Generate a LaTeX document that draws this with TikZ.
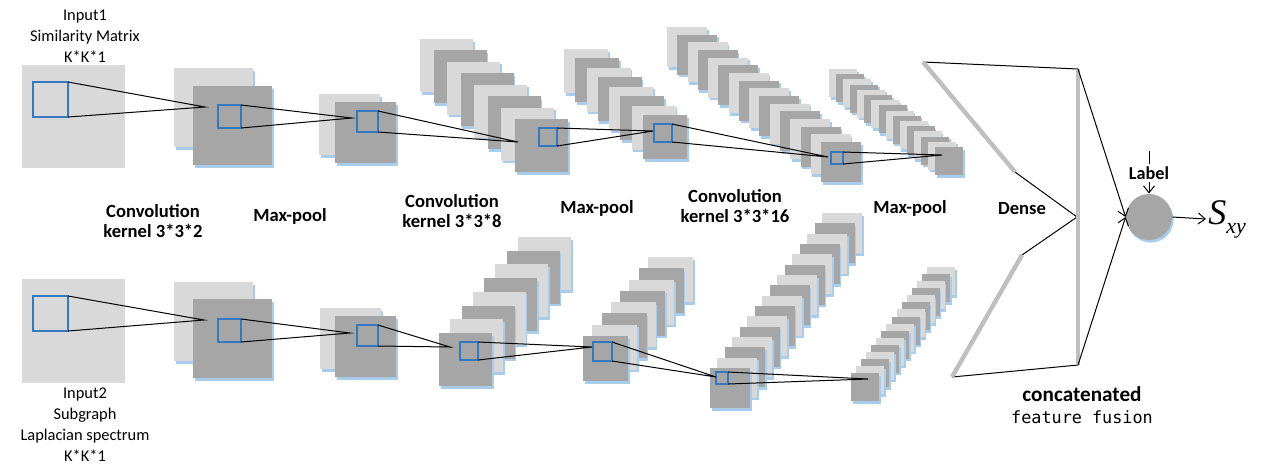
\documentclass[tikz,border=0pt]{standalone}
\usepackage{fontspec}
\setmainfont{Carlito}
\newfontfamily\codefont{DejaVu Sans Mono}
\newfontfamily\timesfont{Liberation Serif}
\usetikzlibrary{positioning, calc, arrows.meta, shadows}
\definecolor{MapLight}{HTML}{D9D9D9}
\definecolor{MapDark}{HTML}{A6A6A6}
\definecolor{BarGray}{HTML}{BFBFBF}
\definecolor{Kernel}{HTML}{3478C0}
\definecolor{Glow}{HTML}{A9CCEB}
\tikzset{
    inmap/.style={fill=MapLight},
    map/.style={drop shadow={shadow xshift=0.8pt, shadow yshift=-1.3pt, fill=Glow, opacity=1}},
    kernel/.style={rectangle, draw=Kernel, line width=0.9pt, minimum size=#1, inner sep=0pt, outer sep=0pt},
    proj/.style={line width=0.5pt, color=black},
    densebar/.style={line width=2.2pt, color=BarGray},
    smalltext/.style={font=\fontsize{8.2}{10.5}\selectfont, align=center},
    steptext/.style={font=\fontsize{9.3}{9.8}\selectfont\bfseries, align=center},
}
% pila di mappe: x0, y0, dx, dy, n, lato
\newcommand{\featmaps}[6]{%
    \foreach \i in {1,...,#5}{%
        \ifodd\i \def\mapcol{MapLight}\else \def\mapcol{MapDark}\fi
        \fill[map, fill=\mapcol] ({#1+(\i-1)*(#3)},{#2+(\i-1)*(#4)}) rectangle ++(#6,#6);
    }}

\begin{document}
\begin{tikzpicture}[x=0.5pt, y=-0.5pt, >={Straight Barb[length=3.5pt, width=5.5pt]}]
    \useasboundingbox (0,0) rectangle (1263,468);

    % Ingressi
    \fill[inmap] (22,65) rectangle ++(103,103);
    \fill[inmap] (22,279) rectangle ++(103,104);
    \node[smalltext] (in1) at (85,36) {Input1\\Similarity Matrix\\K*K*1};
    \node[smalltext] (in2) at (85,425) {Input2\\Subgraph\\Laplacian spectrum\\K*K*1};

    % Ramo superiore
    \featmaps{174}{68}{19}{18}{2}{79}
    \featmaps{319}{94}{16}{8}{2}{61}
    \featmaps{420}{39}{13.57}{11.43}{8}{53}
    \featmaps{564}{49}{11.29}{9.43}{8}{44}
    \featmaps{667}{27}{10.27}{7.67}{16}{40}
    \featmaps{829}{69}{7.07}{5.2}{16}{28}

    % Ramo inferiore
    \featmaps{174}{282}{19}{17}{2}{79}
    \featmaps{320}{308}{15}{8}{2}{61}
    \featmaps{518}{237}{-11.29}{13.71}{8}{53}
    \featmaps{648}{257}{-9.29}{11.29}{8}{45}
    \featmaps{822}{213}{-7.47}{10.33}{16}{40}
    \featmaps{927}{267}{-5.07}{7.07}{16}{28}

    % Finestre dei kernel
    \node[kernel=17.5pt] (w1t) at (50.5,99.5) {};
    \node[kernel=11.5pt] (w2t) at (229.5,116.5) {};
    \node[kernel=10.5pt] (w3t) at (367.5,121.5) {};
    \node[kernel=9pt]    (w4t) at (548,137) {};
    \node[kernel=9pt]    (w5t) at (663,133) {};
    \node[kernel=6pt]    (w6t) at (837,158) {};
    \node[kernel=17.5pt] (w1b) at (50.5,313.5) {};
    \node[kernel=11.5pt] (w2b) at (229.5,330.5) {};
    \node[kernel=10.5pt] (w3b) at (367.5,335.5) {};
    \node[kernel=9pt]    (w4b) at (469,351) {};
    \node[kernel=9.5pt]  (w5b) at (602.5,351.5) {};
    \node[kernel=6pt]    (w6b) at (722,378) {};

    % Punti di convergenza
    \coordinate (t2) at (205,107);
    \coordinate (t3) at (352,118);
    \coordinate (t4) at (518,142);
    \coordinate (t5) at (653,131);
    \coordinate (t6) at (828,157);
    \coordinate (t7) at (942,155);
    \coordinate (b2) at (204,320);
    \coordinate (b3) at (350,333);
    \coordinate (b4) at (450,347);
    \coordinate (b5) at (592,347);
    \coordinate (b6) at (716,377);
    \coordinate (b7) at (868,379);

    \foreach \w/\p in {w1t/t2, w2t/t3, w3t/t4, w4t/t5, w5t/t6, w6t/t7,
                       w1b/b2, w2b/b3, w3b/b4, w4b/b5, w5b/b6, w6b/b7}
        \draw[proj] (\w.north east) -- (\p) -- (\w.south east);

    % Etichette dei passi
    \node[steptext] (lc1) at (153,221) {Convolution\\kernel 3*3*2};
    \node[steptext] (lp1) at (290,216) {Max-pool};
    \node[steptext] (lc2) at (452,211) {Convolution\\kernel 3*3*8};
    \node[steptext] (lp2) at (597,208) {Max-pool};
    \node[steptext] (lc3) at (735,206) {Convolution\\kernel 3*3*16};
    \node[steptext] (lp3) at (910,208) {Max-pool};
    \node[steptext] (lds) at (1022,209) {Dense};

    % Dense e concatenazione
    \coordinate (dt1) at (923,62);
    \coordinate (dt2) at (1015,172);
    \coordinate (db1) at (1022,255);
    \coordinate (db2) at (952,377);
    \coordinate (ct) at (1078,69);
    \coordinate (cm) at (1077,217);
    \coordinate (cb) at (1078,365);

    \draw[proj] (dt1) -- (ct);
    \draw[proj] (dt2) -- (cm) -- (db1);
    \draw[proj] (db2) -- (cb);
    \draw[densebar] (dt1) -- (dt2);
    \draw[densebar] (db1) -- (db2);
    \draw[densebar] (ct) -- (cb);

    \node[font=\fontsize{10.6}{12}\selectfont\bfseries] (cat) at (1082,394) {concatenated};
    \node[font=\fontsize{8.4}{10}\selectfont\codefont] (fus) at (1082,417) {feature fusion};

    % Uscita
    \node[circle, fill=MapDark, minimum size=23pt, inner sep=0pt, map] (sim) at (1149,217) {};
    \draw[proj, ->] (ct) -- (sim.west);
    \draw[proj, ->] (cb) -- (sim.west);

    \node[font=\fontsize{9.1}{10}\selectfont\bfseries, inner sep=1pt] (lab) at (1149,173) {Label};
    \coordinate (labtop) at (1149,151);
    \draw[proj] (labtop) -- (lab.north);
    \draw[proj, ->] (lab.south) -- (sim.north);

    \node[font=\timesfont\itshape\fontsize{18}{18}\selectfont, anchor=west, inner sep=1pt] (sxy) at (1206,219)
        {S\raisebox{-4.5pt}{\fontsize{11}{11}\selectfont xy}};
    \draw[proj, ->] (sim.east) -- (sxy.west);
\end{tikzpicture}
\end{document}
